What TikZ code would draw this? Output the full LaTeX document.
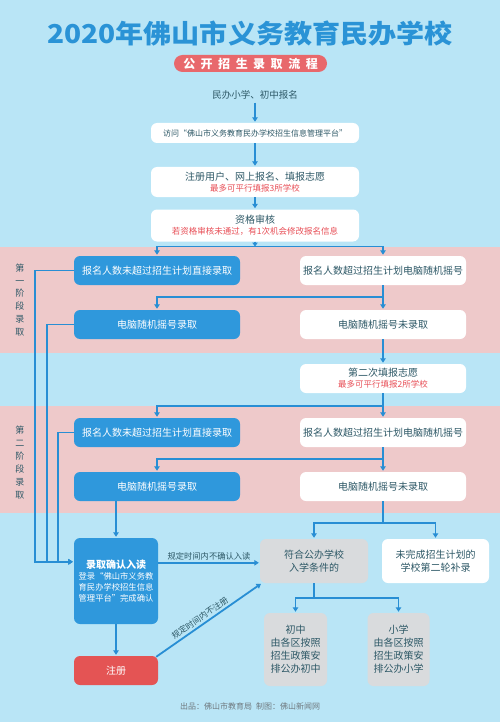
\documentclass[tikz,border=0pt]{standalone}
\usepackage{fontspec}
\setmainfont{Noto Sans CJK SC}
\usepackage{graphicx}
\usetikzlibrary{arrows.meta,calc}
\definecolor{bg}{RGB}{185,229,246}
\definecolor{band}{RGB}{238,201,202}
\definecolor{blu}{RGB}{47,152,220}
\definecolor{lnc}{RGB}{40,142,212}
\definecolor{ttl}{RGB}{42,147,214}
\definecolor{dark}{RGB}{45,88,102}
\definecolor{redt}{RGB}{232,78,86}
\definecolor{gry}{RGB}{217,219,221}
\definecolor{regred}{RGB}{228,84,84}
\definecolor{pill}{RGB}{232,104,108}
\definecolor{foot}{RGB}{112,122,128}
\begin{document}
\begin{tikzpicture}[x=1pt,y=-1pt,
  box/.style={rounded corners=6pt, inner sep=0pt, align=center},
  wbox/.style={box, fill=white, text=dark},
  bbox/.style={box, fill=blu, text=white},
  gbox/.style={box, fill=gry, text=dark},
  colbox/.style={minimum width=166pt, minimum height=29pt},
  seg/.style={draw=lnc, line width=1.8pt},
  flow/.style={seg, -{Triangle[length=4.5pt,width=5.5pt]}, shorten >=1pt},
  tx/.style={font=\fontsize{10}{12}\selectfont},
  stage/.style={text=dark, align=center, font=\fontsize{9}{12.9}\selectfont},
  lbl/.style={text=dark, font=\fontsize{8.3}{10}\selectfont, inner sep=2pt}
]
\useasboundingbox (0,0) rectangle (500,722);
\fill[bg] (0,0) rectangle (500,722);
\fill[band] (0,247) rectangle (500,353);
\fill[band] (0,406) rectangle (500,513);

% title
\node[text=ttl, inner sep=0] (title) at (250,34)
  {\fontsize{26}{26}\selectfont\bfseries\scalebox{1.08}[1]{2020年佛山市义务教育民办学校}};
\node[fill=pill, rounded corners=8.5pt, minimum width=153pt, minimum height=17pt, inner sep=0,
  text=white] (sub) at (250.5,63.5)
  {\fontsize{12}{12}\selectfont\bfseries 公\hspace{5.5pt}开\hspace{5.5pt}招\hspace{5.5pt}生\hspace{5.5pt}录\hspace{5.5pt}取\hspace{5.5pt}流\hspace{5.5pt}程};

% top chain
\node[text=dark, inner sep=3pt, font=\fontsize{9.5}{11}\selectfont] (start) at (255,95) {民办小学、初中报名};
\node[wbox, minimum width=208pt, minimum height=20pt, font=\fontsize{8}{10}\selectfont] (b1) at (255,133)
  {访问“佛山市义务教育民办学校招生信息管理平台”};
\node[wbox, minimum width=208pt, minimum height=30pt] (b2) at (255,182)
  {{\fontsize{10}{12}\selectfont 注册用户、网上报名、填报志愿}\\[-1pt]{\fontsize{8.5}{10}\selectfont\color{redt}最多可平行填报3所学校}};
\node[wbox, minimum width=208pt, minimum height=32pt] (b3) at (255,225.5)
  {{\fontsize{10}{12}\selectfont 资格审核}\\[-1pt]{\fontsize{8.5}{10}\selectfont\color{redt}若资格审核未通过，有1次机会修改报名信息}};
\draw[flow] (start.south) -- (b1.north);
\draw[flow] (b1.south) -- (b2.north);
\draw[flow] (b2.south) -- (b3.north);

% stage 1
\node[stage] (st1) at (20,300) {第\\一\\阶\\段\\录\\取};
\node[bbox, colbox, tx] (L1) at (157,270.5) {报名人数未超过招生计划直接录取};
\node[wbox, colbox, tx] (R1) at (383,270.5) {报名人数超过招生计划电脑随机摇号};
\node[bbox, colbox, tx] (L2) at (157,324.5) {电脑随机摇号录取};
\node[wbox, colbox, tx] (R2) at (383,324.5) {电脑随机摇号未录取};
\coordinate (s1) at (255,246.5);
\draw[seg, -{Triangle[length=4pt,width=5.5pt]}] (b3.south) -- (s1);
\draw[flow] (s1) -| (L1.north);
\draw[flow] (s1) -| (R1.north);
\coordinate (s2) at (383,297);
\draw[seg] (R1.south) -- (s2);
\draw[flow] (s2) -| (L2.north);
\draw[flow] (s2) -- (R2.north);

% second choice
\node[wbox, colbox] (R2b) at (383,378.5)
  {{\fontsize{10}{12}\selectfont 第二次填报志愿}\\[-1pt]{\fontsize{8.5}{10}\selectfont\color{redt}最多可平行填报2所学校}};
\draw[flow] (R2.south) -- (R2b.north);

% stage 2
\node[stage] (st2) at (20,462.5) {第\\二\\阶\\段\\录\\取};
\node[bbox, colbox, tx] (L3) at (157,432.5) {报名人数未超过招生计划直接录取};
\node[wbox, colbox, tx] (R3) at (383,432.5) {报名人数超过招生计划电脑随机摇号};
\node[bbox, colbox, tx] (L4) at (157,486.5) {电脑随机摇号录取};
\node[wbox, colbox, tx] (R4) at (383,486.5) {电脑随机摇号未录取};
\coordinate (s3) at (383,406);
\draw[seg] (R2b.south) -- (s3);
\draw[flow] (s3) -| (L3.north);
\draw[flow] (s3) -- (R3.north);
\coordinate (s4) at (383,459);
\draw[seg] (R3.south) -- (s4);
\draw[flow] (s4) -| (L4.north);
\draw[flow] (s4) -- (R4.north);

% confirm and register
\node[bbox, minimum width=84pt, minimum height=86pt, font=\fontsize{8.3}{11}\selectfont] (C) at (116,581)
  {{\fontsize{10}{13}\selectfont\bfseries 录取确认入读}\\登录“佛山市义务教\\育民办学校招生信息\\管理平台”完成确认};
\node[box, fill=regred, text=white, minimum width=84pt, minimum height=29pt, tx] (R) at (116,670.5) {注册};
\coordinate (cin) at ($(C.north west)+(0,24)$);
\coordinate (cout) at ($(C.north east)+(0,25)$);
\draw[flow] (L1.west) -- (35,270.5) |- (cin);
\draw[flow] (L2.west) -- (47,324.5) |- (cin);
\draw[flow] (L3.west) -- (58,432.5) |- (cin);
\draw[flow] (C.north |- L4.south) -- (C.north);
\draw[flow] (C.south) -- (R.north);

% right bottom
\node[gbox, minimum width=108pt, minimum height=44pt, font=\fontsize{10}{13}\selectfont] (G) at (314,561) {符合公办学校\\入学条件的};
\node[wbox, minimum width=107pt, minimum height=44pt, font=\fontsize{10}{13}\selectfont] (W) at (435.5,561) {未完成招生计划的\\学校第二轮补录};
\coordinate (s5) at (383,523);
\draw[seg] (R4.south) -- (s5);
\draw[flow] (s5) -| (G.north);
\draw[flow] (s5) -| (W.north);
\draw[flow] (cout) -- node[lbl, above] {规定时间内不确认入读} (cout -| G.west);
\draw[flow] ($(R.north east)+(-2,1)$) -- node[lbl, sloped, above, pos=0.45] {规定时间内不注册} ($(G.south west)+(2,0)$);

\node[gbox, minimum width=63pt, minimum height=73pt, font=\fontsize{10}{13}\selectfont] (J) at (295.5,649.5) {初中\\由各区按照\\招生政策安\\排公办初中};
\node[gbox, minimum width=62pt, minimum height=73pt, font=\fontsize{10}{13}\selectfont] (P) at (398.5,649.5) {小学\\由各区按照\\招生政策安\\排公办小学};
\coordinate (s6) at (314,598);
\draw[seg] (G.south) -- (s6);
\draw[flow] (s6) -| (J.north);
\draw[flow] (s6) -| (P.north);

% footer
\node[text=foot, font=\fontsize{8}{10}\selectfont] (foot) at (250,706) {出品：佛山市教育局\hspace{4pt}制图：佛山新闻网};
\end{tikzpicture}
\end{document}
